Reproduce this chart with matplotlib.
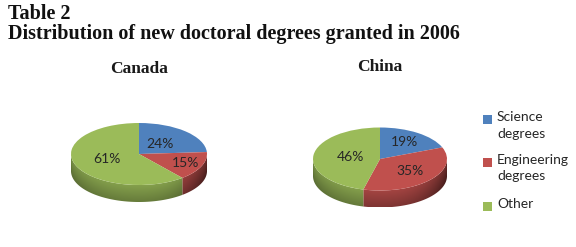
import numpy as np
import matplotlib.pyplot as plt
from matplotlib.colors import to_rgb
from matplotlib.patches import Polygon, Rectangle

# data
categories = ["Science\ndegrees", "Engineering\ndegrees", "Other"]
countries = ["Canada", "China"]
canada_share = [24, 15, 61]
china_share = [19, 35, 46]
top_colors = ["#4F81BD", "#C0504D", "#9BBB59"]

W, H = 576, 247
fig = plt.figure(figsize=(W / 100, H / 100), dpi=100)

LABEL_FONT = ["Lato", "DejaVu Sans"]
TITLE_FONT = ["Liberation Serif"]


def pie3d(values, cx, cy, rx, ry, depth, title, title_y, label_r):
    """elliptic pie with a side wall, cx/cy/rx/ry in pixels (origin top-left)"""
    pad = 6
    left, right = cx - rx - pad, cx + rx + pad
    top, bottom = cy - ry - pad, cy + ry + depth + pad
    ax = fig.add_axes([left / W, 1 - bottom / H, (right - left) / W, (bottom - top) / H])
    wedges, texts, autotexts = ax.pie(
        values, colors=top_colors, startangle=90, counterclock=False,
        autopct="%d%%", pctdistance=0.6,
        wedgeprops=dict(linewidth=0),
        textprops=dict(fontsize=10, family=LABEL_FONT, color="#262626"),
    )
    d = depth / ry

    # shading image for the wall: lighter near the rim, darker at the far right
    xs = np.linspace(-1, 1, 400)
    ys = np.linspace(-1 - d, 0, 120)
    X, Y = np.meshgrid(xs, ys)
    rim = -np.sqrt(np.clip(1 - X ** 2, 0, None))
    v = np.clip((rim - Y) / d, 0, 1)
    f = 0.86 - 0.2 * v - 0.3 * np.clip(X, 0, None) ** 3 - 0.08 * np.clip(-X, 0, None) ** 3

    for i, (w, col, t) in enumerate(zip(wedges, top_colors, autotexts)):
        w.set_zorder(3)
        t.set_zorder(5)
        mid = np.radians((w.theta1 + w.theta2) / 2)
        t.set_position((label_r[i] * np.cos(mid), label_r[i] * np.sin(mid)))

        th = np.radians(np.linspace(w.theta1, w.theta2, 300))
        th = th[np.sin(th) < 0]
        if len(th) < 2:
            continue
        top_arc = np.c_[np.cos(th), np.sin(th)]
        bot_arc = np.c_[np.cos(th), np.sin(th) - d][::-1]
        poly = Polygon(np.r_[top_arc, bot_arc], closed=True, fc="none", ec="none")
        ax.add_patch(poly)
        img = np.clip(np.array(to_rgb(col))[None, None, :] * f[..., None], 0, 1)
        im = ax.imshow(img, extent=(-1, 1, -1 - d, 0), origin="lower",
                       aspect="auto", zorder=2, interpolation="bilinear")
        im.set_clip_path(poly)

    ax.set_aspect("auto")
    ax.set_xlim(-(rx + pad) / rx, (rx + pad) / rx)
    ax.set_ylim(-(ry + depth + pad) / ry, (ry + pad) / ry)
    ax.axis("off")

    fig.text(cx / W, 1 - title_y / H, title, ha="center", va="center",
             fontsize=12.5, fontweight="bold", family=TITLE_FONT, color="#1a1a1a")
    return wedges


pie3d(canada_share, 139, 154, 68, 31, 17, countries[0], 69, [0.45, 0.75, 0.5])
pie3d(china_share, 380, 159, 67, 31.5, 17, countries[1], 67, [0.65, 0.6, 0.45])

# titles
fig.text(8 / W, 1 - 4 / H, "Table 2", ha="left", va="top", fontsize=14.5,
         fontweight="bold", family=TITLE_FONT, color="#111111")
fig.text(8 / W, 1 - 24 / H, "Distribution of new doctoral degrees granted in 2006",
         ha="left", va="top", fontsize=14.5, fontweight="bold",
         family=TITLE_FONT, color="#111111")

# legend
row_tops = [115, 158, 202]
for lab, col, y in zip(categories, top_colors, row_tops):
    fig.patches.append(Rectangle((483 / W, 1 - (y + 9) / H), 9 / W, 9 / H,
                                 transform=fig.transFigure, fc=col, ec="none"))
    fig.text(497 / W, 1 - (y - 4) / H, lab, ha="left", va="top", fontsize=10,
             family=LABEL_FONT, color="#262626", linespacing=1.45)

fig.savefig("out.png", dpi=100)
